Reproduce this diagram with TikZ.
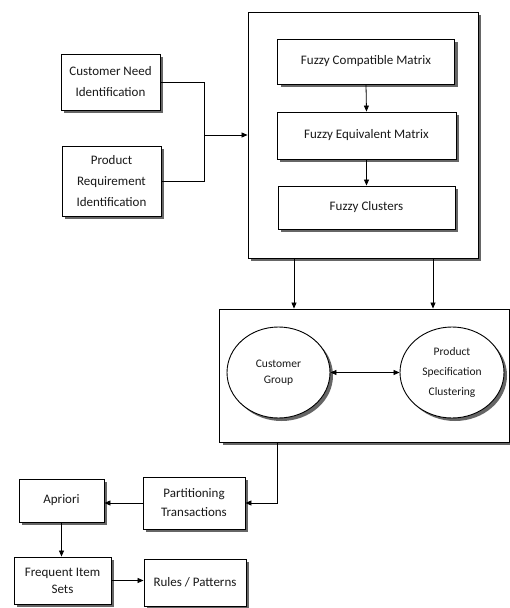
\documentclass[tikz,border=0pt]{standalone}
\usepackage{fontspec}
\setmainfont{Carlito}
\usetikzlibrary{arrows.meta,shapes.geometric,shadows}
\begin{document}
\begin{tikzpicture}[x=1pt,y=-1pt,
  shd/.style={general shadow={fill=black!60, shadow xshift=3pt, shadow yshift=-3pt}},
  box/.style={draw=black, line width=0.9pt, fill=white, shd, inner sep=0pt, align=center, text=black!90},
  oval/.style={ellipse, draw=black, line width=0.9pt, fill=white, shd, inner sep=0pt, align=center, text=black!90},
  fs/.style={font=\fontsize{13}{#1}\selectfont},
  conn/.style={draw=black, line width=0.8pt},
  arr/.style={conn, -{Triangle[length=6pt,width=5pt]}},
  darr/.style={conn, {Triangle[length=6pt,width=5pt]}-{Triangle[length=6pt,width=5pt]}}
]
\useasboundingbox (0,0) rectangle (510,608);
% left inputs
\node[box, fs=21, minimum width=99pt, minimum height=56pt] (cni) at (110.5,82) {Customer Need\\Identification};
\node[box, fs=21, minimum width=99pt, minimum height=70pt] (pri) at (111.5,181) {Product\\Requirement\\Identification};
% big fuzzy box
\node[box, minimum width=230pt, minimum height=246pt] (big) at (363,135) {};
\node[box, fs=15, minimum width=177pt, minimum height=45pt] (fcm) at (366,61.5) {Fuzzy Compatible Matrix};
\node[box, fs=15, minimum width=179pt, minimum height=47pt] (fem) at (366.5,135.5) {Fuzzy Equivalent Matrix};
\node[box, fs=15, minimum width=177pt, minimum height=43pt] (fc) at (366.5,207.5) {Fuzzy Clusters};
% lower box with ovals
\node[box, minimum width=290pt, minimum height=133pt] (lower) at (364.5,375.5) {};
\node[oval, font=\fontsize{11.5}{16}\selectfont, minimum width=103pt, minimum height=91pt] (cg) at (278.5,372.5) {Customer\\Group};
\node[oval, font=\fontsize{11.5}{20}\selectfont, minimum width=104pt, minimum height=91pt] (ps) at (452,372.5) {Product\\Specification\\Clustering};
% bottom chain
\node[box, fs=19, minimum width=102pt, minimum height=52pt] (pt) at (194,503) {Partitioning\\Transactions};
\node[box, fs=15, minimum width=85pt, minimum height=43pt] (ap) at (61.5,500.5) {Apriori};
\node[box, fs=17, minimum width=97pt, minimum height=47pt] (fis) at (62.5,580.5) {Frequent Item\\Sets};
\node[box, fs=15, minimum width=102pt, minimum height=47pt] (rp) at (195,582.5) {Rules / Patterns};
% connectors
\coordinate (j) at (204,135);
\draw[conn] (cni.east) -| (j);
\draw[conn] (pri.east) -| (j);
\draw[arr] (j) -- (big.west);
\draw[arr] (fcm.south) -- (fem.north);
\draw[arr] (fem.south) -- (fc.north);
\draw[arr] ([xshift=-69pt]big.south) -- ([xshift=-69pt]big.south |- lower.north);
\draw[arr] ([xshift=70pt]big.south) -- ([xshift=70pt]big.south |- lower.north);
\draw[darr] (cg) -- (ps);
\draw[arr] ([xshift=-87.5pt]lower.south) |- (pt.east);
\draw[arr] (pt.west) -- (pt.west -| ap.east);
\draw[arr] (ap.south) -- (ap.south |- fis.north);
\draw[arr] (fis.east) -- (fis.east -| rp.west);
\end{tikzpicture}
\end{document}
